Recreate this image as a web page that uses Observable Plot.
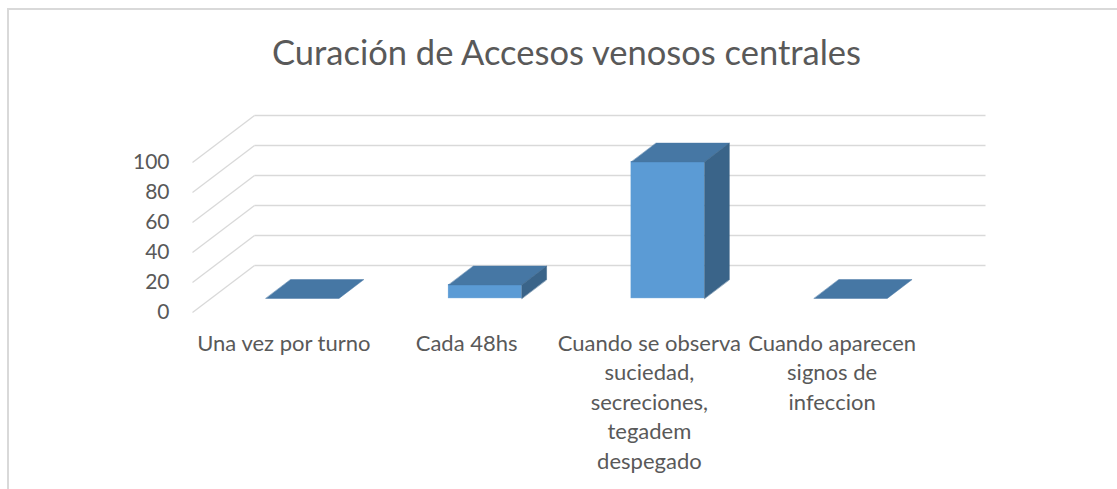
<!DOCTYPE html>
<html><head><meta charset="utf-8">
<script src="https://cdn.jsdelivr.net/npm/d3@7"></script>
<script src="https://cdn.jsdelivr.net/npm/@observablehq/plot@0.6"></script>
<style>
html,body{margin:0;padding:0;background:#fff;overflow:hidden}
#wrap{position:relative;width:1117px;height:489px;overflow:hidden}
#box{position:absolute;left:7px;top:8px;width:1200px;height:600px;border:2px solid #d9d9d9;box-sizing:border-box}
#title{position:absolute;left:8px;width:1117px;top:35px;text-align:center;font-family:Lato,sans-serif;font-size:34.5px;color:#595959;line-height:1;white-space:nowrap}
#chart{position:absolute;left:0;top:0}
</style></head><body>
<div id="wrap"><div id="box"></div><div id="title"></div><div id="chart"></div></div>
<script>
const title = "Curación de Accesos venosos centrales";
const categories = ["Una vez por turno", "Cada 48hs", "Cuando se observa suciedad, secreciones, tegadem despegado", "Cuando aparecen signos de infeccion"];
const tickLabels = ["Una vez por turno", "Cada 48hs", "Cuando se observa\nsuciedad,\nsecreciones,\ntegadem\ndespegado", "Cuando aparecen\nsignos de\ninfeccion"];
const values = [0, 9, 91, 0];
const yTicks = [0, 20, 40, 60, 80, 100];

document.getElementById("title").textContent = title;

const W = 1117, H = 489;
const mL = 192, mR = 194, mT = 162, mB = 177;
const n = categories.length;
const bandPx = (W - mL - mR) / n;
const unitPx = (H - mT - mB) / 100;
// oblique depth vector in data units (floor depth)
const DX = 62 / bandPx, DY = 47 / unitPx;
const P = (u, v, d) => ({x: u + d * DX, y: v + d * DY});

const grid = [];
for (const t of yTicks) {
  const a = P(0, t, 0), b = P(0, t, 1), c = P(n, t, 1);
  grid.push({x1: a.x, y1: a.y, x2: b.x, y2: b.y});
  grid.push({x1: b.x, y1: b.y, x2: c.x, y2: c.y});
}

const df = 0.3, db = 0.7, half = 0.2;
const fronts = [], tops = [], sides = [];
values.forEach((v, i) => {
  const xl = i + 0.5 - half, xr = i + 0.5 + half;
  const f0 = P(xl, 0, df), f1 = P(xr, v, df);
  fronts.push({x1: f0.x, x2: f1.x, y1: f0.y, y2: f1.y});
  [P(xl, v, df), P(xr, v, df), P(xr, v, db), P(xl, v, db)].forEach(p => tops.push({...p, id: i}));
  if (v > 0) [P(xr, 0, df), P(xr, v, df), P(xr, v, db), P(xr, 0, db)].forEach(p => sides.push({...p, id: i}));
});

const labels = categories.map((c, i) => ({x: i + 0.5, text: tickLabels[i]}));

const chart = Plot.plot({
  width: W, height: H,
  marginLeft: mL, marginRight: mR, marginTop: mT, marginBottom: mB,
  x: {domain: [0, n], axis: null},
  y: {domain: [0, 100], axis: null},
  style: {fontFamily: "Lato, sans-serif", background: "transparent", overflow: "visible", color: "#595959"},
  marks: [
    Plot.link(grid, {x1: "x1", y1: "y1", x2: "x2", y2: "y2", stroke: "#d9d9d9", strokeWidth: 1.3}),
    Plot.rect(fronts, {x1: "x1", x2: "x2", y1: "y1", y2: "y2", fill: "#5b9bd5", stroke: "#5b9bd5", strokeWidth: 0.5}),
    Plot.line(tops, {x: "x", y: "y", z: "id", curve: "linear-closed", fill: "#4677a4", stroke: "#4677a4", strokeWidth: 0.5}),
    Plot.line(sides, {x: "x", y: "y", z: "id", curve: "linear-closed", fill: "#3a6489", stroke: "#3a6489", strokeWidth: 0.5}),
    Plot.text(yTicks, {y: d => d, text: d => String(d), frameAnchor: "left", textAnchor: "end", dx: -23, fontSize: 21, fill: "#595959"}),
    Plot.text(labels, {x: "x", text: "text", frameAnchor: "bottom", lineAnchor: "top", dy: 17, fontSize: 22, lineHeight: 29.6 / 22, fill: "#595959"})
  ]
});
document.getElementById("chart").appendChild(chart);
</script>
</body></html>
